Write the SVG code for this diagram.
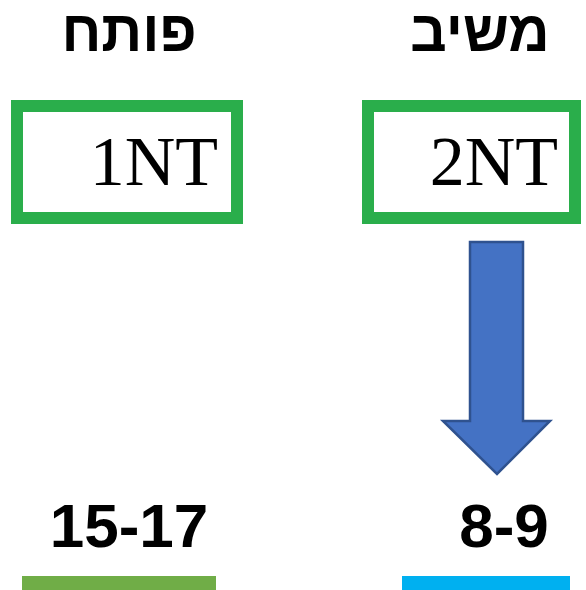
<svg xmlns="http://www.w3.org/2000/svg" width="586" height="590" viewBox="0 0 586 590">
<style>
.head{font-family:"Liberation Sans",Arial,sans-serif;font-weight:bold;font-size:57px;fill:#000}
.bid{font-family:"Liberation Serif","Times New Roman",serif;font-size:70px;fill:#000}
.range{font-family:"Liberation Sans",Arial,sans-serif;font-weight:bold;font-size:62px;fill:#000}
.box{fill:#fff;stroke:#2AAE4B;stroke-width:12}
</style>
<rect width="586" height="590" fill="#fff"/>
<g id="opener">
<text class="head" x="129" y="51" text-anchor="middle" direction="rtl">פותח</text>
<rect class="box" x="17" y="106" width="220" height="112"/>
<text class="bid" x="218" y="185" text-anchor="end">1NT</text>
<text class="range" x="129" y="547" text-anchor="middle">15-17</text>
<rect x="22" y="576" width="194" height="14" fill="#70AD47"/>
</g>
<g id="responder">
<text class="head" x="480" y="51" text-anchor="middle" direction="rtl">משיב</text>
<rect class="box" x="368" y="106" width="207" height="112"/>
<text class="bid" x="558" y="185" text-anchor="end">2NT</text>
<text class="range" x="504" y="547" text-anchor="middle">8-9</text>
<rect x="402" y="576" width="168" height="14" fill="#00B0F0"/>
</g>
<g id="connectors">
<path d="M470,242 H523 V421 H550 L497,474 L443,421 H470 Z" fill="#4472C4" stroke="#2F528F" stroke-width="2.5"/>
</g>
</svg>
